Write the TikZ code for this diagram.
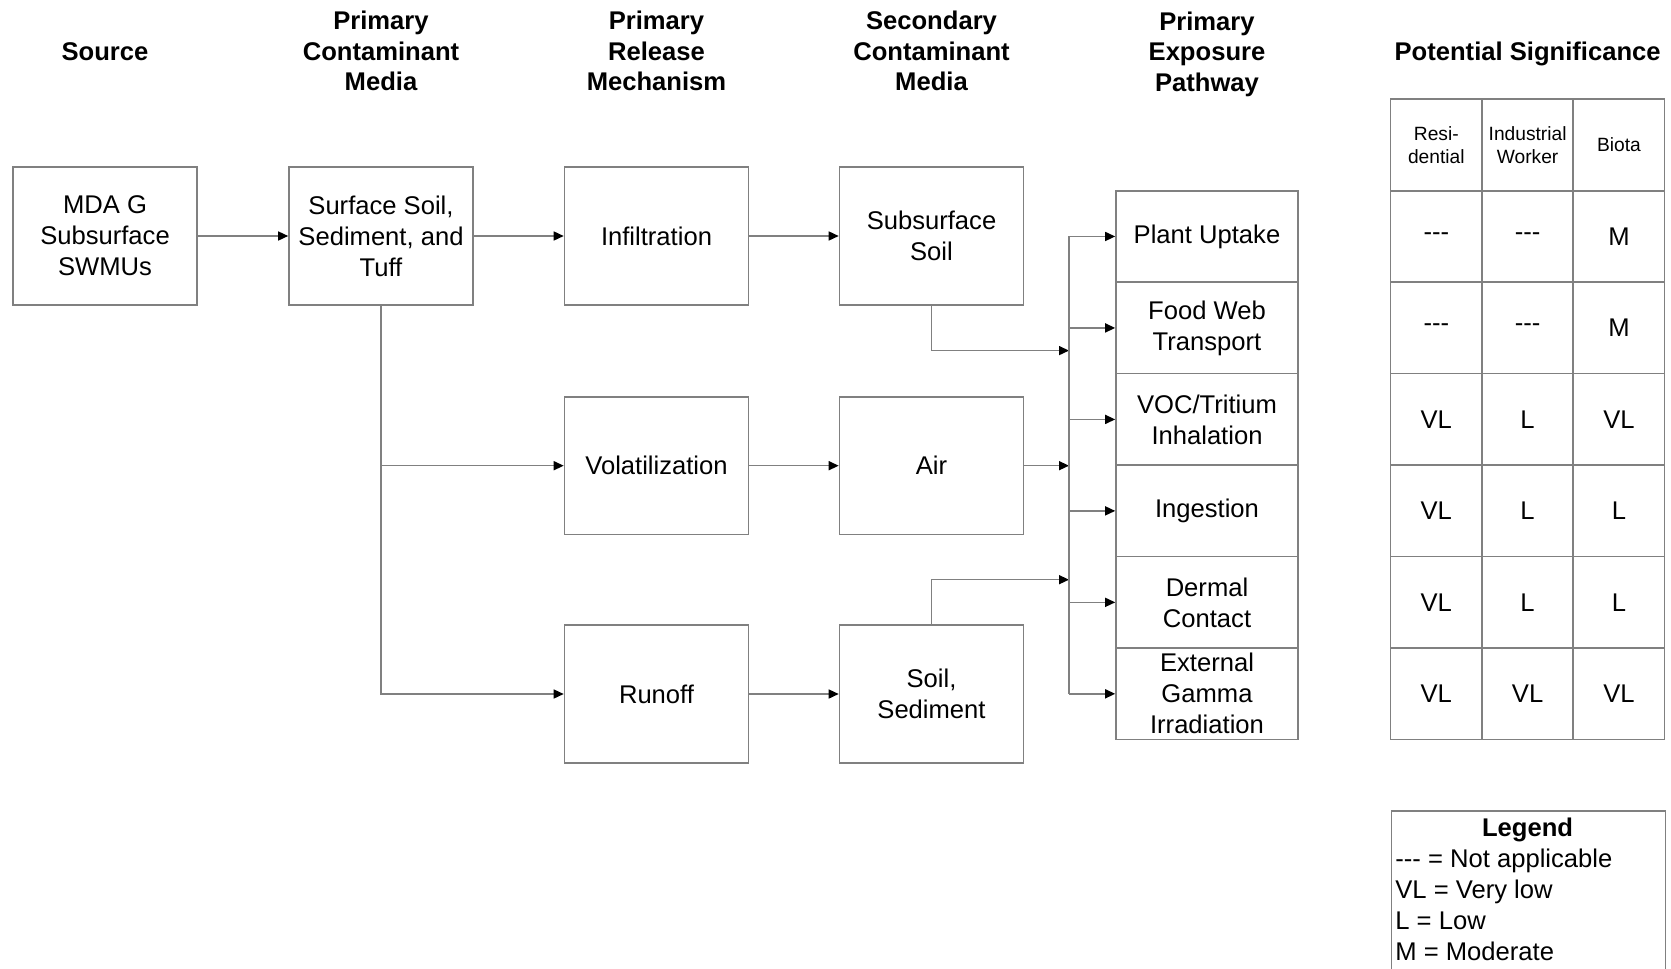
\documentclass[tikz,border=0pt]{standalone}
\usepackage{fontspec}
\setmainfont{Liberation Sans}
\usetikzlibrary{arrows.meta}
\usetikzlibrary{positioning}
\definecolor{linegray}{RGB}{128,128,128}
\newcommand{\notappl}{-{}-{}-}

\begin{document}
\begin{tikzpicture}[
    x=0.5pt, y=-0.5pt,
    box/.style={rectangle, draw=linegray, line width=0.8pt, minimum width=92pt, minimum height=68.75pt, inner sep=0pt, align=center, font=\fontsize{12.8}{15.5}\selectfont},
    pathbox/.style={rectangle, draw=linegray, line width=0.8pt, minimum width=91pt, minimum height=45.73pt, inner sep=0pt, align=center, font=\fontsize{12.8}{15.5}\selectfont},
    cell/.style={rectangle, draw=linegray, line width=0.8pt, minimum width=45.65pt, minimum height=45.73pt, inner sep=0pt, align=center, font=\fontsize{12.8}{15.5}\selectfont},
    headcell/.style={cell, font=\fontsize{9.6}{11.8}\selectfont},
    heading/.style={align=center, inner sep=0pt, font=\bfseries\fontsize{12.8}{15.3}\selectfont},
    legline/.style={anchor=base west, inner sep=0pt, font=\fontsize{12.8}{15.5}\selectfont},
    link/.style={draw=linegray, line width=0.75pt},
    >={Triangle[length=5pt, width=4.5pt, color=black]}
]
\useasboundingbox (0,0) rectangle (1671,969);

% --- Column headings ---
\node[heading] (hsrc) at (105,52) {Source};
\node[heading] (hcm) at (381,51) {Primary\\Contaminant\\Media};
\node[heading] (hrel) at (656.5,51) {Primary\\Release\\Mechanism};
\node[heading] (hsec) at (931.5,51) {Secondary\\Contaminant\\Media};
\node[heading] (hexp) at (1207,54) {Primary\\Exposure\\Pathway};
\node[heading] (hsig) at (1527.6,54) {Potential Significance};

% --- Source and media boxes ---
\node[box] (src) at (105,236) {MDA G\\Subsurface\\SWMUs};
\node[box] (cm) at (381,236) {Surface Soil,\\Sediment, and\\Tuff};
\node[box] (inf) at (656.5,236) {Infiltration};
\node[box] (vol) at (656.5,465.7) {Volatilization};
\node[box] (run) at (656.5,694) {Runoff};
\node[box] (sub) at (931.5,236) {Subsurface\\Soil};
\node[box] (air) at (931.5,465.7) {Air};
\node[box] (soil) at (931.5,694) {Soil,\\Sediment};

% --- Exposure pathways ---
\foreach \i/\txt in {1/{Plant Uptake}, 2/{Food Web\\Transport}, 3/{VOC/Tritium\\Inhalation}, 4/{Ingestion}, 5/{Dermal\\Contact}, 6/{External\\Gamma\\Irradiation}}
    \node[pathbox] (e\i) at (1207,{145 + \i*91.47}) {\txt};

% --- Significance table ---
\node[headcell] (t01) at (1436.3,145) {Resi-\\dential};
\node[headcell] (t02) at (1527.6,145) {Industrial\\Worker};
\node[headcell] (t03) at (1618.9,145) {Biota};
\foreach \r/\va/\vb/\vc in {1/\notappl/\notappl/M, 2/\notappl/\notappl/M, 3/VL/L/VL, 4/VL/L/L, 5/VL/L/L, 6/VL/VL/VL}
{
    \node[cell] (t\r1) at (1436.3,{145 + \r*91.47}) {\va};
    \node[cell] (t\r2) at (1527.6,{145 + \r*91.47}) {\vb};
    \node[cell] (t\r3) at (1618.9,{145 + \r*91.47}) {\vc};
}

% --- Legend ---
\node[draw=linegray, line width=0.8pt, minimum width=136.95pt, minimum height=85pt, inner sep=0pt, anchor=north west] (legend) at (1390.7,810) {};
\node[anchor=base, inner sep=0pt, font=\bfseries\fontsize{12.8}{15.5}\selectfont] (legtitle) at (1527.6,836) {Legend};
\node[legline] (leg1) at (1395,867) {\notappl{} = Not applicable};
\node[legline] (leg2) at (1395,898) {VL = Very low};
\node[legline] (leg3) at (1395,929) {L = Low};
\node[legline] (leg4) at (1395,960) {M = Moderate};

% --- Connectors ---
\coordinate (bus) at (1069,0);
\coordinate (jsub) at (1069,350.6);
\coordinate (jsoil) at (1069,579.7);

\draw[link,->] (src.east) -- (cm.west);
\draw[link,->] (cm.east) -- (inf.west);
\draw[link,->] (inf.east) -- (sub.west);
\draw[link,->] (cm.south) |- (run.west);
\draw[link,->] (cm.south |- vol.west) -- (vol.west);
\draw[link,->] (vol.east) -- (air.west);
\draw[link,->] (run.east) -- (soil.west);

\draw[link,->] (sub.south) |- (jsub);
\draw[link,->] (air.east) -- (air.east -| bus);
\draw[link,->] (soil.north) |- (jsoil);

\draw[link] (bus |- e1.west) -- (bus |- e6.west);
\foreach \i in {1,...,6}
    \draw[link,->] (bus |- e\i.west) -- (e\i.west);

\end{tikzpicture}
\end{document}
